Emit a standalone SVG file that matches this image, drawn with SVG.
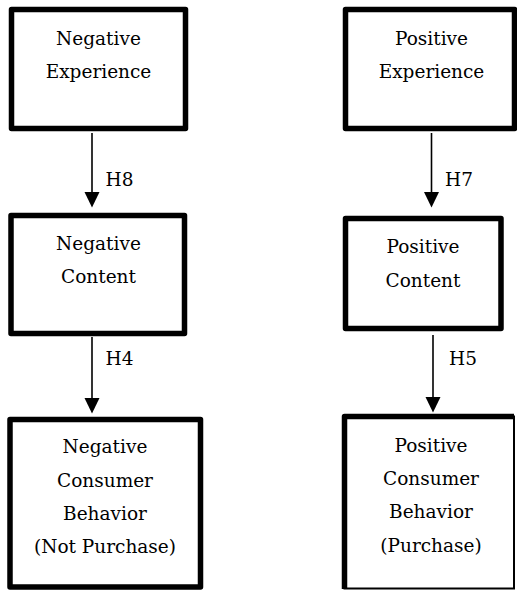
<svg xmlns="http://www.w3.org/2000/svg" width="517" height="590" viewBox="0 0 517 590">
<style>
.box{fill:#fff;stroke:#000;stroke-width:5.5;stroke-linejoin:round}
.thin{fill:#fff;stroke:#000;stroke-width:2}
.thick{fill:none;stroke:#000;stroke-width:5.5;stroke-linejoin:round}
text{font-family:"DejaVu Serif","Liberation Serif",serif;font-size:18.5px;fill:#000;text-anchor:middle}
.lbl{text-anchor:start}
.conn line{stroke:#000;stroke-width:1.6}
.conn path{fill:#000;stroke:none}
</style>
<rect width="517" height="590" fill="#fff"/>
<g id="neg-exp">
<rect class="box" x="11.5" y="9.5" width="174" height="119"/>
<text x="98.5" y="45">Negative</text>
<text x="98.5" y="78">Experience</text>
</g>
<g id="neg-content">
<rect class="box" x="11" y="215.5" width="173.5" height="118"/>
<text x="98.5" y="250">Negative</text>
<text x="98.5" y="283">Content</text>
</g>
<g id="neg-behavior">
<rect class="box" x="10" y="419.5" width="190.5" height="167.5"/>
<text x="105" y="453">Negative</text>
<text x="105" y="486.5">Consumer</text>
<text x="105" y="520">Behavior</text>
<text x="105" y="553">(Not Purchase)</text>
</g>
<g id="pos-exp">
<rect class="box" x="345.5" y="9.5" width="169" height="119"/>
<text x="431.5" y="45">Positive</text>
<text x="431.5" y="78">Experience</text>
</g>
<g id="pos-content">
<rect class="box" x="345.5" y="218.5" width="155.5" height="110"/>
<text x="423" y="253">Positive</text>
<text x="423" y="287">Content</text>
</g>
<g id="pos-behavior">
<rect class="thin" x="344.5" y="416.5" width="169.5" height="172"/>
<path class="thick" d="M344.5,589 V416.5 H514"/>
<text x="431" y="452">Positive</text>
<text x="431" y="485">Consumer</text>
<text x="431" y="518">Behavior</text>
<text x="431" y="552">(Purchase)</text>
</g>
<g class="conn" id="connectors">
<line x1="92" y1="133" x2="92" y2="194"/>
<path d="M84.5,192 H99.5 L92,207.5 Z"/>
<line x1="92" y1="337" x2="92" y2="400"/>
<path d="M84.5,398 H99.5 L92,413.5 Z"/>
<line x1="431.5" y1="133" x2="431.5" y2="194"/>
<path d="M424,192 H439 L431.5,207.5 Z"/>
<line x1="433" y1="335" x2="433" y2="399"/>
<path d="M425.5,397 H440.5 L433,412.5 Z"/>
<text class="lbl" x="105.5" y="186">H8</text>
<text class="lbl" x="105.5" y="365">H4</text>
<text class="lbl" x="445" y="186">H7</text>
<text class="lbl" x="449" y="365">H5</text>
</g>
</svg>
